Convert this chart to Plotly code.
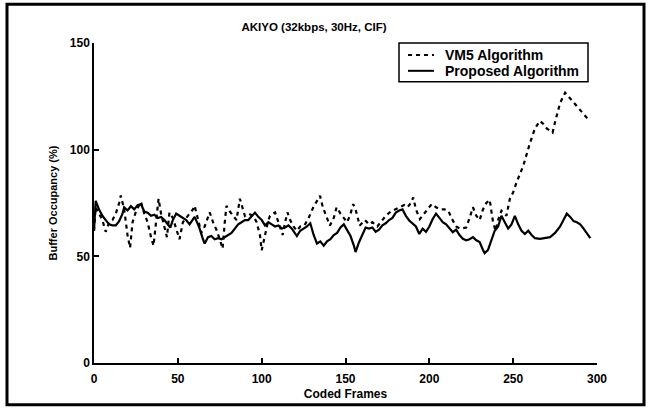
import plotly.graph_objects as go

# Proposed algorithm (solid)
prop_frames = [0, 1, 3, 5, 7, 9, 11, 13, 15, 17, 18, 20, 22, 24, 26, 28, 30, 32, 34, 36, 38, 40, 42, 44, 45.5, 47, 49, 51, 53, 55, 57, 59, 60, 62, 63, 65, 66, 68, 70, 72, 74, 76, 78, 80, 82, 84, 86, 88, 90, 92, 94, 96, 98, 100, 102, 104, 106, 108, 110, 112, 114, 116, 118, 120, 121, 123, 125, 127, 129, 131, 133, 135, 137, 139, 141, 143, 145, 147, 149, 151, 153, 155, 156, 158, 160, 162, 164, 166, 168, 170, 172, 174, 176, 178, 180, 182, 184, 186, 188, 190, 192, 194, 196, 198, 200, 202, 204, 206, 208, 210, 212, 214, 216, 218, 220, 222, 224, 226, 228, 230, 232, 233, 235, 237, 239, 241, 243, 245, 247, 249, 251, 253, 255, 257, 259, 261, 263, 266, 269, 272, 275, 278, 280, 282, 284, 286, 288, 290, 292, 294, 296]
prop_values = [62, 76, 72, 69, 67, 65, 64.5, 64.5, 66.5, 70, 73, 71.5, 73.5, 72, 74, 74.5, 71, 70.5, 69, 69.5, 68, 68.5, 67, 65, 63.5, 67, 70, 69, 68, 67, 65, 67, 68.5, 65, 63, 58, 56, 59, 59.5, 58, 58.5, 58, 59, 60, 61, 63, 65, 66, 67, 67, 69, 70.5, 68.5, 67, 64.5, 66, 65, 64, 64.5, 63, 63.5, 64.5, 63, 61, 59.5, 62, 63, 64, 65.5, 60, 56, 57, 55, 57, 58, 60, 61, 63.5, 65, 62, 59.5, 55, 52, 56.5, 60, 63.5, 63, 63.5, 61.5, 62.5, 64.5, 65.5, 67, 68, 70.5, 71.5, 72, 69, 66.8, 65.5, 64, 60.5, 63, 61.5, 64, 67.5, 70, 68, 66, 65, 63, 61.3, 62.5, 60, 58.2, 57.5, 58, 59, 57.5, 56.7, 53, 51.5, 53, 58, 62, 64, 69, 66, 63, 65, 69, 65, 62, 60.5, 62, 60, 58.5, 58.2, 58.5, 59, 61, 64, 67, 70, 68.5, 66.5, 66, 65, 63, 60.5, 58.5]

# VM5 algorithm (dashed)
vm5_frames = [0, 1, 3, 5, 7, 9, 11, 13, 15, 16, 18, 19, 20, 21.5, 23, 25, 27, 28, 30, 32, 34, 35.5, 37, 38.5, 40, 42, 43.5, 45, 47, 49, 51, 53, 55, 57, 59, 60, 62, 64, 66, 68, 69, 71, 73, 75, 76.7, 78, 79, 81, 83, 85, 87, 88, 90, 92, 95, 97, 99, 100, 102, 104, 105, 108, 110, 112.5, 114, 115.4, 117, 119, 121, 123, 125.5, 128, 130.8, 133, 134.8, 136.5, 138.7, 140.7, 143, 144.7, 147, 149, 151, 153, 154.6, 156, 158.5, 161.6, 164, 166, 169, 171, 174, 177, 180, 183, 185, 187, 189, 190.4, 192, 194.4, 197, 199, 201.4, 204, 206.4, 209, 211.3, 213.5, 216, 218.3, 222, 224, 226, 228, 230, 232, 234, 236, 238, 239.5, 241, 243, 246, 248, 250, 252, 256, 260, 263, 266, 268, 270, 273.5, 275, 278, 281, 284, 288, 292, 295]
vm5_values = [62, 73, 70, 67, 61.5, 66, 67, 70, 75, 78.5, 72, 66, 60, 54, 66, 71, 74, 75.5, 70, 66, 59, 55, 66, 77, 70, 64, 59, 70.5, 68, 63, 58, 66, 68, 70, 72, 73.7, 68, 61, 64, 69, 70.6, 66, 62.5, 58, 53.6, 66, 73.7, 71, 69, 67, 77, 74, 69, 70, 69, 66, 59.8, 52.8, 60, 67, 69, 70.6, 66, 60, 66, 70.6, 67, 64, 62, 64, 64.5, 68, 73, 76, 78.4, 73, 68, 64.4, 68, 73, 70, 68, 66, 70, 74.5, 72, 64.4, 67, 65, 66, 64, 66, 69, 71, 72, 73, 74, 73, 75, 77.6, 72, 67.5, 70, 72, 74.5, 73, 72, 72, 71.4, 67.5, 64, 63, 63.5, 68, 73, 69, 67, 72, 75, 76.5, 66, 62, 67, 71.4, 69, 76.9, 80, 84.6, 92.4, 103, 110, 113.5, 112, 110, 108, 113, 121.9, 126.7, 124, 120.4, 117, 114]

x_ticks = [0, 50, 100, 150, 200, 250, 300]
y_ticks = [0, 50, 100, 150]
series_names = ["VM5 Algorithm", "Proposed Algorithm"]

title_text = "AKIYO (32kbps, 30Hz, CIF)"
x_title = "Coded Frames"
y_title = "Buffer Occupancy (%)"

FONT = "Liberation Sans, Arial, sans-serif"
DASH = "4px,4px"

fig = go.Figure()
fig.add_trace(go.Scatter(x=vm5_frames, y=vm5_values, mode="lines", name=series_names[0],
                         line=dict(color="black", width=2.2, dash=DASH), showlegend=False))
fig.add_trace(go.Scatter(x=prop_frames, y=prop_values, mode="lines", name=series_names[1],
                         line=dict(color="black", width=2.2), showlegend=False))

axis_common = dict(showgrid=False, zeroline=False, showline=True, linecolor="black", linewidth=1.5,
                   ticks="inside", ticklen=5, tickwidth=1.5, tickcolor="black",
                   tickfont=dict(family=FONT, size=12, color="black", weight="bold"))

fig.update_xaxes(range=[0, 300], tickvals=x_ticks, ticktext=[str(v) for v in x_ticks],
                 ticklabelstandoff=4,
                 title=dict(text=x_title, font=dict(family=FONT, size=12, color="black", weight="bold"), standoff=4),
                 **axis_common)
fig.update_yaxes(range=[0, 150], tickvals=y_ticks, ticktext=[str(v) for v in y_ticks],
                 title=dict(text=y_title, font=dict(family=FONT, size=11, color="black", weight="bold"), standoff=10),
                 **axis_common)

L, R, T, B = 94, 54, 43, 46
W, H = 651, 411
pw, ph = W - L - R, H - T - B

def px(x):
    return (x - L) / pw

def py(y):
    return (H - B - y) / ph

fig.update_layout(
    width=W, height=H,
    margin=dict(l=L, r=R, t=T, b=B),
    paper_bgcolor="white", plot_bgcolor="white",
    title=dict(text=title_text, xref="paper", x=px(314), xanchor="center", y=1 - 27 / H, yanchor="middle",
               font=dict(family=FONT, size=11.5, color="black", weight="bold")),
    showlegend=False,
)

# legend box (upper right, inside the axes)
fig.add_shape(type="rect", xref="paper", yref="paper", x0=px(399), x1=px(588), y0=py(82), y1=py(43),
              line=dict(color="black", width=1.5), fillcolor="white", layer="above")
rows = [55, 71]
dashes = [DASH, "solid"]
for name, row, d in zip(series_names, rows, dashes):
    fig.add_shape(type="line", xref="paper", yref="paper", x0=px(408), x1=px(434), y0=py(row), y1=py(row),
                  line=dict(color="black", width=2, dash=d), layer="above")
    fig.add_annotation(text=name, xref="paper", yref="paper", x=px(443), y=py(row), xanchor="left",
                       yanchor="middle", showarrow=False,
                       font=dict(family=FONT, size=14, color="black", weight="bold"))

# outer frame of the scanned figure
fig.add_shape(type="rect", xref="paper", yref="paper", x0=px(7), x1=px(644), y0=py(407), y1=py(4),
              line=dict(color="black", width=3), fillcolor="rgba(0,0,0,0)", layer="above")

fig.write_html("out.html")
